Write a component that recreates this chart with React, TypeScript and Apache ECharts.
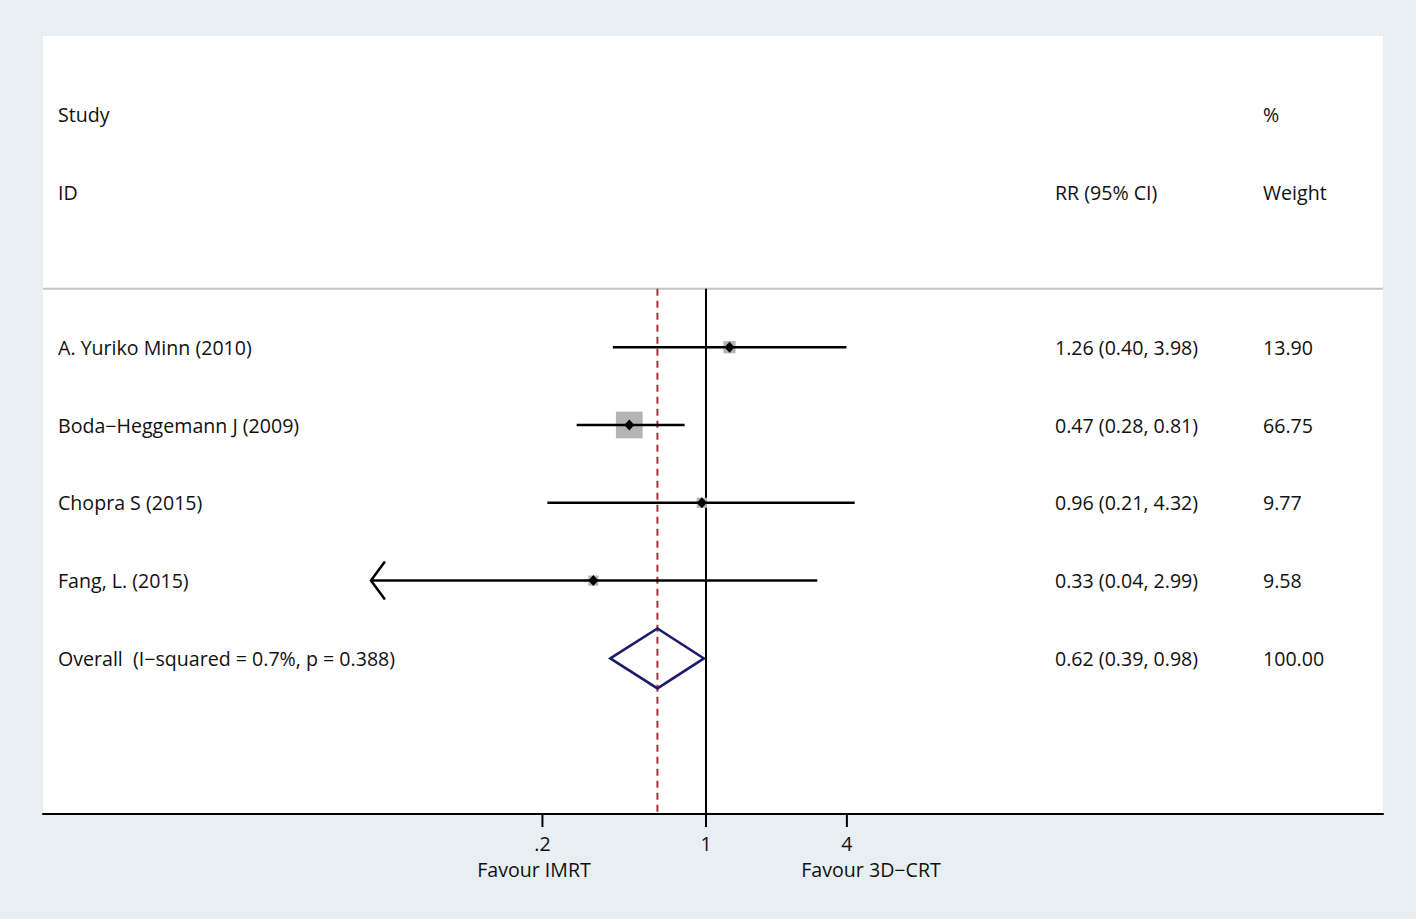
import React, { useEffect, useRef } from "react";
import * as echarts from "echarts";

// ---- data ----
const STUDIES = ["A. Yuriko Minn (2010)", "Boda−Heggemann J (2009)", "Chopra S (2015)", "Fang, L. (2015)"];
const RR = [1.26, 0.47, 0.96, 0.33];
const LOWER = [0.4, 0.28, 0.21, 0.036];
const UPPER = [3.98, 0.81, 4.32, 2.99];
const WEIGHT = [13.9, 66.75, 9.77, 9.58];
const RR_LABELS = ["1.26 (0.40, 3.98)", "0.47 (0.28, 0.81)", "0.96 (0.21, 4.32)", "0.33 (0.04, 2.99)"];
const WEIGHT_LABELS = ["13.90", "66.75", "9.77", "9.58"];

const OVERALL_LABEL = "Overall  (I−squared = 0.7%, p = 0.388)";
const OVERALL_RR = [0.62];
const OVERALL_LOWER = [0.39];
const OVERALL_UPPER = [0.98];
const OVERALL_RR_LABEL = "0.62 (0.39, 0.98)";
const OVERALL_WEIGHT_LABEL = "100.00";

const TICKS = [0.2, 1, 4];
const TICK_LABELS = [".2", "1", "4"];
const X_CLIP = 0.037; // plotted lower limit of the CI lines (arrow beyond)

// ---- layout constants ----
const W = 1416;
const H = 919;
const GRID_L = 43;
const GRID_R = 1383;
const GRID_T = 37;
const GRID_B = 814;
const X_ONE_PX = 706;
const PX_PER_DEC = 234;
const XMIN = Math.pow(10, (GRID_L - X_ONE_PX) / PX_PER_DEC);
const XMAX = Math.pow(10, (GRID_R - X_ONE_PX) / PX_PER_DEC);
const FONT = "'Open Sans', 'Noto Sans', sans-serif";
const FS = 19.6;

const textStyle = (text: string, align: string = "left") => ({
  text,
  fill: "#111",
  font: `${FS}px ${FONT}`,
  align,
  verticalAlign: "middle",
});

export default function App() {
  const ref = useRef<HTMLDivElement>(null);

  useEffect(() => {
    if (!ref.current) return;
    const chart = echarts.init(ref.current, undefined, { renderer: "svg" });
    const maxW = Math.max(...WEIGHT);

    const studyData = STUDIES.map((_, i) => [i, RR[i], LOWER[i], UPPER[i], WEIGHT[i]]);
    const overallRow = STUDIES.length;

    const option: any = {
      animation: false,
      backgroundColor: "#e8eff2",
      grid: {
        left: GRID_L,
        top: GRID_T - 1,
        width: GRID_R - GRID_L,
        height: GRID_B - GRID_T + 1,
        show: true,
        backgroundColor: "#ffffff",
        borderWidth: 0,
      },
      xAxis: {
        type: "log",
        logBase: 10,
        min: XMIN,
        max: XMAX,
        axisLine: { show: true, onZero: false, lineStyle: { color: "#000", width: 2 } },
        axisTick: { show: false },
        axisLabel: { show: false },
        splitLine: { show: false },
      },
      yAxis: {
        type: "value",
        min: -4,
        max: 6,
        inverse: true,
        show: false,
      },
      graphic: [
        { type: "text", x: 58, y: 114, style: textStyle("Study") },
        { type: "text", x: 58, y: 192, style: textStyle("ID") },
        { type: "text", x: 1055, y: 192, style: textStyle("RR (95% CI)") },
        { type: "text", x: 1263, y: 114, style: textStyle("%") },
        { type: "text", x: 1263, y: 192, style: textStyle("Weight") },
        { type: "text", x: 534, y: 869, style: textStyle("Favour IMRT", "center") },
        { type: "text", x: 871, y: 869, style: textStyle("Favour 3D−CRT", "center") },
      ],
      series: [
        // reference lines + header separator
        {
          type: "custom",
          clip: false,
          data: [[0]],
          encode: { y: 0 },
          renderItem: (params: any, api: any) => {
            const sepL = api.coord([XMIN, -0.75]);
            const sepR = api.coord([XMAX, -0.75]);
            const oneTop = api.coord([1, -0.75]);
            const oneBot = api.coord([1, 6]);
            const ovTop = api.coord([OVERALL_RR[0], -0.75]);
            const ovBot = api.coord([OVERALL_RR[0], 6]);
            return {
              type: "group",
              children: [
                {
                  type: "line",
                  shape: { x1: sepL[0], y1: sepL[1], x2: sepR[0], y2: sepR[1] },
                  style: { stroke: "#c4c4c4", lineWidth: 2 },
                },
                {
                  type: "line",
                  shape: { x1: oneTop[0], y1: oneTop[1], x2: oneBot[0], y2: oneBot[1] },
                  style: { stroke: "#000", lineWidth: 2 },
                },
                {
                  type: "line",
                  shape: { x1: ovTop[0], y1: ovTop[1], x2: ovBot[0], y2: ovBot[1] },
                  style: { stroke: "#a8323a", lineWidth: 2, lineDash: [7, 5] },
                },
              ],
            };
          },
        },
        // axis ticks and labels
        {
          type: "custom",
          clip: false,
          data: TICKS.map((t, i) => [t, i]),
          encode: { x: 0 },
          renderItem: (params: any, api: any) => {
            const t = api.value(0);
            const i = params.dataIndex;
            const p = api.coord([t, 6]);
            return {
              type: "group",
              children: [
                {
                  type: "line",
                  shape: { x1: p[0], y1: p[1], x2: p[0], y2: p[1] + 13 },
                  style: { stroke: "#000", lineWidth: 2 },
                },
                {
                  type: "text",
                  x: p[0],
                  y: p[1] + 29,
                  style: textStyle(TICK_LABELS[i], "center"),
                },
              ],
            };
          },
        },
        // studies
        {
          type: "custom",
          clip: false,
          data: studyData,
          encode: { x: [1, 2, 3], y: 0 },
          renderItem: (params: any, api: any) => {
            const i = api.value(0);
            const rr = api.value(1);
            const lo = api.value(2);
            const hi = api.value(3);
            const w = api.value(4);
            const c = api.coord([rr, i]);
            const clipped = lo < X_CLIP;
            const pLo = api.coord([Math.max(lo, X_CLIP), i]);
            const pHi = api.coord([hi, i]);
            const side = 26.7 * Math.sqrt(w / maxW);
            const children: any[] = [
              {
                type: "rect",
                shape: { x: c[0] - side / 2, y: c[1] - side / 2, width: side, height: side },
                style: { fill: "#b4b4b4" },
              },
              {
                type: "line",
                shape: { x1: pLo[0], y1: pLo[1], x2: pHi[0], y2: pHi[1] },
                style: { stroke: "#000", lineWidth: 2.5 },
              },
              {
                type: "polygon",
                shape: {
                  points: [
                    [c[0] - 5, c[1]],
                    [c[0], c[1] - 5.5],
                    [c[0] + 5, c[1]],
                    [c[0], c[1] + 5.5],
                  ],
                },
                style: { fill: "#000" },
              },
              { type: "text", x: 58, y: c[1], style: textStyle(STUDIES[i]) },
              { type: "text", x: 1055, y: c[1], style: textStyle(RR_LABELS[i]) },
              { type: "text", x: 1263, y: c[1], style: textStyle(WEIGHT_LABELS[i]) },
            ];
            if (clipped) {
              children.push({
                type: "polyline",
                shape: {
                  points: [
                    [pLo[0] + 14, pLo[1] - 19],
                    [pLo[0], pLo[1]],
                    [pLo[0] + 14, pLo[1] + 19],
                  ],
                },
                style: { stroke: "#000", lineWidth: 2.5, fill: "none" },
              });
            }
            return { type: "group", children };
          },
        },
        // overall diamond
        {
          type: "custom",
          clip: false,
          data: OVERALL_RR.map((r, k) => [overallRow, r, OVERALL_LOWER[k], OVERALL_UPPER[k]]),
          encode: { x: [1, 2, 3], y: 0 },
          renderItem: (params: any, api: any) => {
            const row = api.value(0);
            const c = api.coord([api.value(1), row]);
            const l = api.coord([api.value(2), row]);
            const r = api.coord([api.value(3), row]);
            const h = 30;
            return {
              type: "group",
              children: [
                {
                  type: "polygon",
                  shape: {
                    points: [
                      [l[0], l[1]],
                      [c[0], c[1] - h],
                      [r[0], r[1]],
                      [c[0], c[1] + h],
                    ],
                  },
                  style: { fill: "none", stroke: "#1b1a6b", lineWidth: 2.5 },
                },
                { type: "text", x: 58, y: c[1], style: textStyle(OVERALL_LABEL) },
                { type: "text", x: 1055, y: c[1], style: textStyle(OVERALL_RR_LABEL) },
                { type: "text", x: 1263, y: c[1], style: textStyle(OVERALL_WEIGHT_LABEL) },
              ],
            };
          },
        },
      ],
    };

    chart.setOption(option);
    return () => chart.dispose();
  }, []);

  return (
    <div
      ref={ref}
      style={{ position: "absolute", left: 0, top: 0, width: W, height: H }}
    />
  );
}
